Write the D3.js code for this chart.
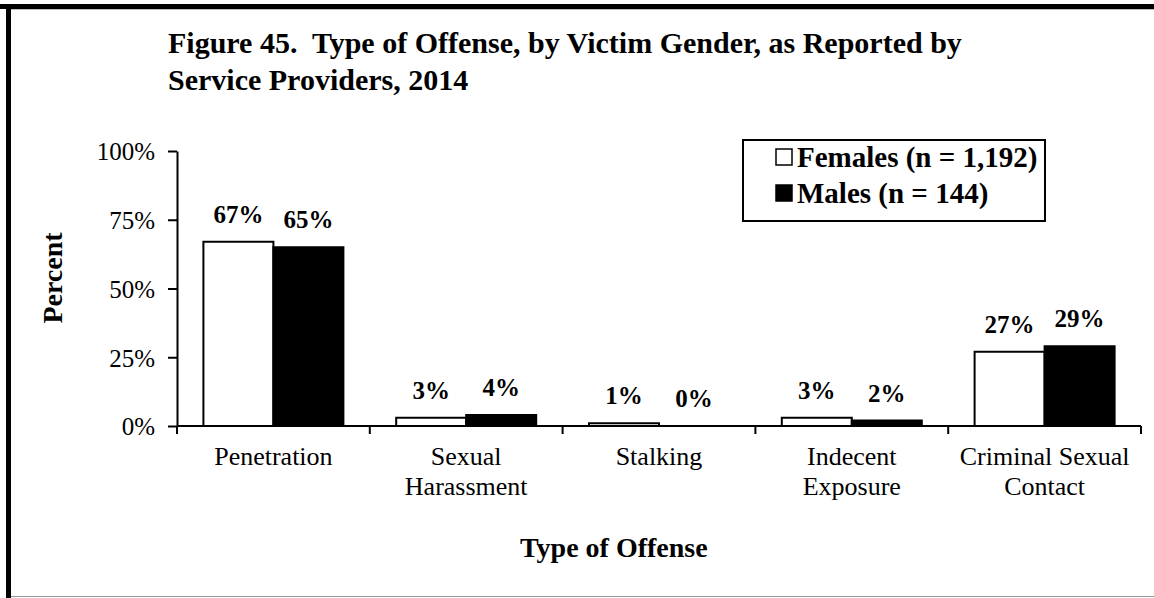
<!DOCTYPE html>
<html><head><meta charset="utf-8">
<script src="https://cdn.jsdelivr.net/npm/d3@7"></script>
<style>body{margin:0;background:#fff}svg{display:block}text{font-family:"Liberation Serif","Times New Roman",serif}</style>
</head><body><svg id="c" width="1154" height="598"></svg>
<script>
const categories = [["Penetration"], ["Sexual", "Harassment"], ["Stalking"], ["Indecent", "Exposure"], ["Criminal Sexual", "Contact"]];
const seriesNames = ["Females (n = 1,192)", "Males (n = 144)"];
const females = [67, 3, 1, 3, 27];
const males = [65, 4, 0, 2, 29];
const yTicks = [0, 25, 50, 75, 100];

const svg = d3.select("#c");
// frame
svg.append("rect").attr("x", 0).attr("y", 4).attr("width", 1154).attr("height", 5).attr("fill", "#000");
svg.append("rect").attr("x", 6).attr("y", 4).attr("width", 5).attr("height", 594).attr("fill", "#000");
svg.append("line").attr("x1", 11).attr("x2", 1154).attr("y1", 9.5).attr("y2", 9.5).attr("stroke", "#bbb");
svg.append("line").attr("x1", 11).attr("x2", 1154).attr("y1", 596.5).attr("y2", 596.5).attr("stroke", "#999");

// title
const title = svg.append("text").attr("x", 168).attr("font-weight", "bold").attr("font-size", 30);
title.append("tspan").attr("x", 168).attr("y", 53).text("Figure 45.\u00a0 Type of Offense, by Victim Gender, as Reported by");
title.append("tspan").attr("x", 168).attr("y", 90).text("Service Providers, 2014");

const x0 = d3.scaleBand().domain(d3.range(categories.length)).range([177, 1141]).paddingInner(0).paddingOuter(0);
const inner = 140 / 192.8;
const x1 = d3.scaleBand().domain([0, 1]).range([0, x0.bandwidth() * inner]);
const y = d3.scaleLinear().domain([0, 100]).range([426, 151]);

// y axis
const yAxis = svg.append("g").attr("transform", "translate(177,0)")
  .call(d3.axisLeft(y).tickValues(yTicks).tickFormat(d => d + "%").tickSize(9).tickSizeOuter(0));
yAxis.select(".domain").attr("stroke", "#000").attr("stroke-width", 2);
yAxis.selectAll(".tick line").attr("stroke", "#000").attr("stroke-width", 2);
yAxis.selectAll(".tick text").attr("font-size", 25).attr("font-family", "Liberation Serif").attr("fill", "#000").attr("x", -22).attr("dy", "0.35em");

// bars
const off = (x0.bandwidth() - x0.bandwidth() * inner) / 2;
const groups = svg.append("g");
[females, males].forEach((vals, s) => {
  groups.selectAll(null).data(vals).enter().append("rect")
    .attr("x", (d, i) => x0(i) + off + x1(s))
    .attr("y", d => y(d))
    .attr("width", x1.bandwidth())
    .attr("height", d => y(0) - y(d))
    .attr("fill", s === 0 ? "#fff" : "#000")
    .attr("stroke", "#000").attr("stroke-width", 2);
  groups.selectAll(null).data(vals).enter().append("text")
    .attr("x", (d, i) => x0(i) + off + x1(s) + x1.bandwidth() / 2)
    .attr("y", d => y(d) - 19)
    .attr("text-anchor", "middle").attr("font-weight", "bold").attr("font-size", 25)
    .text(d => d + "%");
});

// x axis
const xAxis = svg.append("g").attr("transform", "translate(0,426)");
xAxis.append("line").attr("x1", 177).attr("x2", 1141).attr("stroke", "#000").attr("stroke-width", 2);
xAxis.selectAll(null).data(d3.range(categories.length + 1)).enter().append("line")
  .attr("x1", i => i < categories.length ? x0(i) : x0(i - 1) + x0.bandwidth())
  .attr("x2", i => i < categories.length ? x0(i) : x0(i - 1) + x0.bandwidth())
  .attr("y1", 0).attr("y2", 8).attr("stroke", "#000").attr("stroke-width", 2);
const cl = xAxis.selectAll(null).data(categories).enter().append("text")
  .attr("text-anchor", "middle").attr("font-size", 26);
cl.each(function(lines, i) {
  const t = d3.select(this);
  lines.forEach((l, j) => t.append("tspan").attr("x", x0(i) + x0.bandwidth() / 2).attr("y", 39 + j * 30).text(l));
});

// axis titles
svg.append("text").attr("x", 520).attr("y", 557).attr("font-weight", "bold").attr("font-size", 28).text("Type of Offense");
svg.append("text").attr("transform", "translate(62,278) rotate(-90)").attr("text-anchor", "middle").attr("font-weight", "bold").attr("font-size", 28).text("Percent");

// legend
const lg = svg.append("g");
lg.append("rect").attr("x", 743).attr("y", 140).attr("width", 302).attr("height", 81).attr("fill", "#fff").attr("stroke", "#000").attr("stroke-width", 2);
seriesNames.forEach((n, i) => {
  const yy = 167 + i * 36;
  lg.append("rect").attr("x", 776).attr("y", yy - 18).attr("width", 16).attr("height", 16)
    .attr("fill", i === 0 ? "#fff" : "#000").attr("stroke", "#000").attr("stroke-width", 1.5);
  lg.append("text").attr("x", 797).attr("y", yy).attr("font-weight", "bold").attr("font-size", 29).text(n);
});
</script></body></html>
